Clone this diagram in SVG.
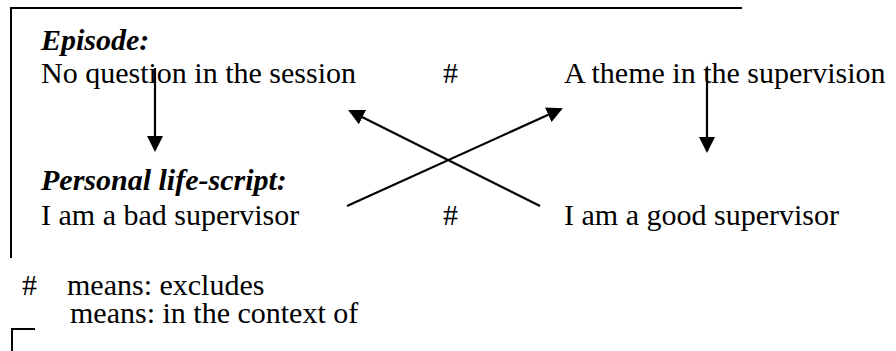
<svg xmlns="http://www.w3.org/2000/svg" width="896" height="351" viewBox="0 0 896 351">
  <defs>
    <style>
      .t { font-family: "Liberation Serif", "Times New Roman", serif; font-size: 30px; fill: #000; }
      .h { font-weight: bold; font-style: italic; }
      .frame { fill: none; stroke: #000; stroke-width: 2; }
      .arrow { fill: none; stroke: #000; stroke-width: 2.2; marker-end: url(#head); }
    </style>
    <marker id="head" markerUnits="userSpaceOnUse" markerWidth="17" markerHeight="16" refX="14" refY="8" orient="auto">
      <path d="M0,0 L16,8 L0,16 Z" fill="#000"/>
    </marker>
  </defs>
  <rect width="896" height="351" fill="#fff"/>

  <!-- context frame around the two levels -->
  <path class="frame" d="M11,258 V8 H742"/>

  <g id="episode-label"><text class="t h" x="41" y="50">Episode:</text></g>
  <g id="no-question"><text class="t" x="41" y="83">No question in the session</text></g>
  <g id="excludes-top"><text class="t" x="443" y="83">#</text></g>
  <g id="theme"><text class="t" x="564" y="83">A theme in the supervision</text></g>

  <g id="script-label"><text class="t h" x="41" y="190">Personal life-script:</text></g>
  <g id="bad-supervisor"><text class="t" x="41" y="225">I am a bad supervisor</text></g>
  <g id="excludes-bottom"><text class="t" x="443" y="225">#</text></g>
  <g id="good-supervisor"><text class="t" x="564" y="225">I am a good supervisor</text></g>

  <g id="connectors">
    <line class="arrow" x1="155" y1="68" x2="155" y2="150"/>
    <line class="arrow" x1="707" y1="68" x2="707" y2="151"/>
    <line class="arrow" x1="540" y1="206" x2="350" y2="111"/>
    <line class="arrow" x1="347" y1="206" x2="561" y2="109"/>
  </g>

  <!-- legend -->
  <g id="legend">
    <text class="t" x="22" y="295">#</text>
    <text class="t" x="67" y="295">means: excludes</text>
    <path class="frame" d="M12,351 V329 H35"/>
    <text class="t" x="70" y="323">means: in the context of</text>
  </g>
</svg>
